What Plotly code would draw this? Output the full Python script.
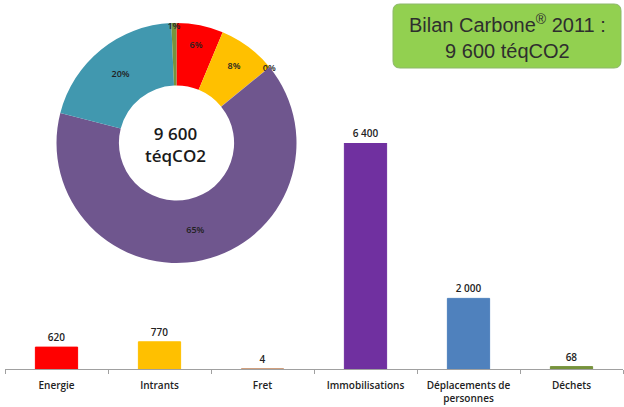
import plotly.graph_objects as go

categories = ["Energie", "Intrants", "Fret", "Immobilisations", "Déplacements de<br>personnes", "Déchets"]
pie_labels = ["Energie", "Intrants", "Fret", "Immobilisations", "Déplacements de personnes", "Déchets"]
values = [620, 770, 4, 6400, 2000, 68]
bar_colors = ["#FF0000", "#FFC000", "#C9906A", "#7030A0", "#4F81BD", "#77933C"]
pie_colors = ["#FF0000", "#FFC000", "#C9906A", "#6F568E", "#4198AF", "#77933C"]
total_label = "9 600<br>téqCO2"
box_label = "Bilan Carbone<sup>®</sup> 2011 :<br>9 600 téqCO2"

W, H = 624, 407
bar_text = [f"{v:,}".replace(",", " ") for v in values]

fig = go.Figure()

fig.add_trace(go.Bar(
    x=categories, y=values,
    marker=dict(color=bar_colors, line=dict(color=bar_colors, width=1)),
    width=0.41,
    text=bar_text, textposition="outside", cliponaxis=False,
    textfont=dict(family="Open Sans", size=10, color="#222222", weight=600),
    hoverinfo="skip", showlegend=False,
))

fig.add_trace(go.Pie(
    labels=pie_labels, values=values,
    marker=dict(colors=pie_colors),
    hole=0.48, sort=False, direction="clockwise", rotation=0,
    texttemplate="%{percent:.0%}", textposition="inside",
    insidetextorientation="horizontal",
    textfont=dict(family="Open Sans", size=9, color="#222222", weight=600),
    domain=dict(x=[56.5 / W, 296.5 / W], y=[1 - 263 / H, 1 - 23 / H]),
    showlegend=False, hoverinfo="skip",
))

# rounded box for title (paper coords)
x0, x1 = 393 / W, 621 / W
y0, y1 = 1 - 68 / H, 1 - 4 / H
rx, ry = 7 / W, 7 / H
path = (f"M {x0+rx},{y1} L {x1-rx},{y1} Q {x1},{y1} {x1},{y1-ry} "
        f"L {x1},{y0+ry} Q {x1},{y0} {x1-rx},{y0} L {x0+rx},{y0} "
        f"Q {x0},{y0} {x0},{y0+ry} L {x0},{y1-ry} Q {x0},{y1} {x0+rx},{y1} Z")
fig.add_shape(type="path", path=path, xref="paper", yref="paper",
              fillcolor="#92D050", line=dict(color="#8DB86A", width=1))

fig.add_annotation(text=box_label, x=(x0 + x1) / 2, y=(y0 + y1) / 2,
                   xref="paper", yref="paper", showarrow=False,
                   xanchor="center", yanchor="middle",
                   font=dict(family="Liberation Sans", size=20, color="#2e2e2e"),
                   align="center")

fig.add_annotation(text=total_label, x=175.5 / W, y=1 - 144 / H,
                   xref="paper", yref="paper", showarrow=False,
                   xanchor="center", yanchor="middle",
                   font=dict(family="Open Sans", size=17, color="#1a1a1a", weight=600),
                   align="center")

fig.update_layout(
    width=W, height=H,
    margin=dict(l=0, r=0, t=0, b=0, autoexpand=False),
    paper_bgcolor="white", plot_bgcolor="white",
    uniformtext=dict(minsize=9, mode="show"),
    xaxis=dict(domain=[5 / W, 623 / W], showline=True, linecolor="#A0A0A0", linewidth=1,
               ticks="outside", tickson="boundaries", ticklen=4, tickcolor="#A0A0A0",
               ticklabelstandoff=7,
               tickfont=dict(family="Open Sans", size=10, color="#222222", weight=600),
               showgrid=False, zeroline=False, automargin=False),
    yaxis=dict(domain=[38 / H, (H - 143) / H], range=[0, 6400], visible=False,
               showgrid=False, zeroline=False, automargin=False),
    bargap=0.59,
)

fig.write_html("out.html",
               config={"displayModeBar": False, "staticPlot": True},
               post_script="document.body.style.margin='0';document.body.style.overflow='hidden';")
